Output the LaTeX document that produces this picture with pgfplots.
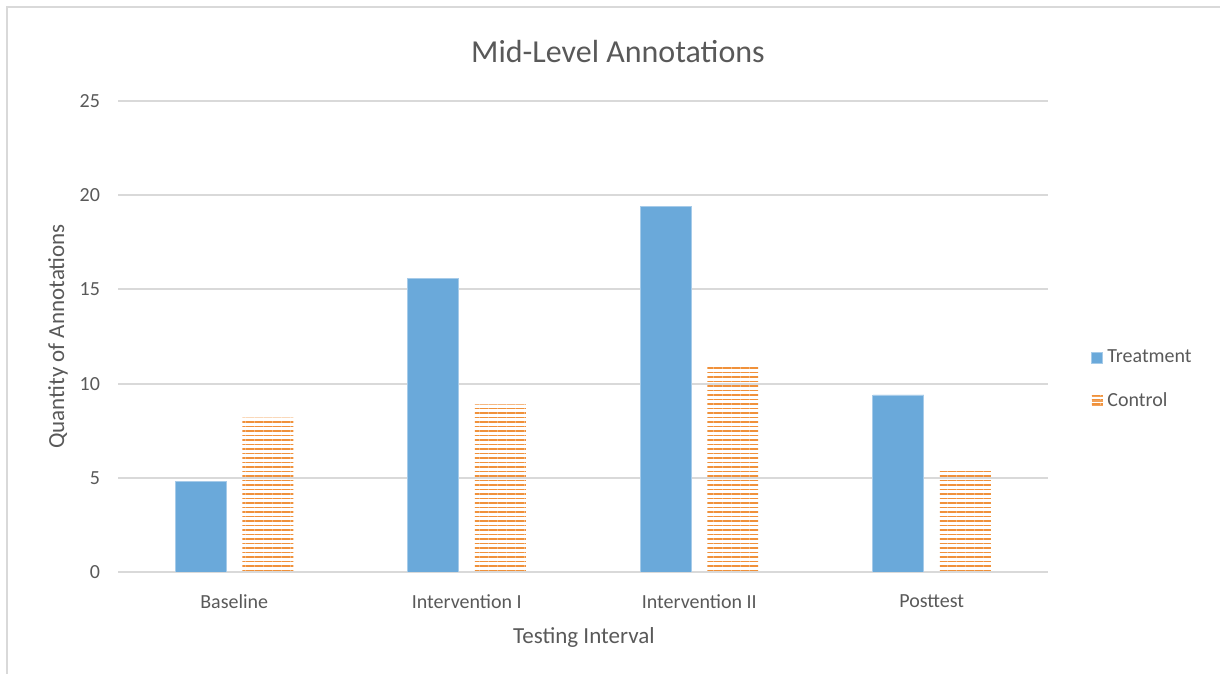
\documentclass[border=0pt]{standalone}
\usepackage{pgfplots}
\pgfplotsset{compat=1.18}
\usepackage{fontspec}
\setmainfont{Carlito}
\usetikzlibrary{patterns.meta}

\definecolor{txt}{HTML}{595959}
\definecolor{gridc}{HTML}{D9D9D9}
\definecolor{treat}{HTML}{6AA9DA}
\definecolor{ctrl}{HTML}{F0913A}

\begin{document}
\begin{tikzpicture}
% chart area and its thin frame
\path[use as bounding box] (-59pt,-51pt) rectangle (551pt,286pt);
\draw[gridc, line width=1pt] (-55.5pt,-51pt) -- (-55.5pt,282.5pt) -- (551pt,282.5pt);

\begin{axis}[
  at={(0,0)}, anchor=south west,
  scale only axis, width=465pt, height=235.5pt,
  xmin=-0.5, xmax=3.5, ymin=0, ymax=25,
  xtick={0,1,2,3},
  xticklabels={Baseline, Intervention I, Intervention II, Posttest},
  ytick={0,5,...,25},
  ybar=8pt, bar width=25.5pt,
  axis line style={draw=none},
  major tick length=0pt,
  ymajorgrids, grid style={gridc, line width=1pt},
  /pgf/number format/assume math mode=true,
  tick label style={font=\fontsize{10}{12}\selectfont, text=txt},
  xticklabel style={yshift=-8pt},
  yticklabel style={xshift=-5.5pt},
  title={Mid-Level Annotations},
  title style={at={(axis description cs:0.5376,1.0806)}, anchor=center,
    font=\fontsize{16}{19}\selectfont, text=txt},
  xlabel={Testing Interval},
  xlabel style={at={(axis description cs:0.501,-0.138)}, anchor=center,
    font=\fontsize{11.5}{14}\selectfont, text=txt},
  ylabel={Quantity of Annotations},
  ylabel style={at={(axis description cs:-0.0645,0.5)}, anchor=center,
    font=\fontsize{11.5}{14}\selectfont, text=txt},
  legend style={draw=none, fill=none, at={(axis description cs:1.0396,0.4086)},
    anchor=west, row sep=11.5pt, column sep=1pt,
    font=\fontsize{10}{12}\selectfont, text=txt,
    nodes={inner sep=1pt}},
  legend cell align=left,
]
\addplot[fill=treat, draw=treat!60!white, line width=0.4pt,
  legend image code/.code={\path[fill=treat, draw=treat!60!white, line width=0.4pt]
    (0pt,-2.75pt) rectangle (5.5pt,2.75pt);}]
  coordinates {(0,4.8) (1,15.6) (2,19.4) (3,9.4)};
\addlegendentry{Treatment}
\addplot[draw=none, pattern={Lines[angle=0,distance=2.25pt,line width=0.7pt]}, pattern color=ctrl,
  legend image code/.code={
    \path (0pt,-2.75pt) rectangle (5.5pt,2.75pt);
    \foreach \yy in {-2.2pt,0pt,2.2pt}{\draw[ctrl!85!white, line width=0.6pt] (0pt,\yy) -- (5.5pt,\yy);}}]
  coordinates {(0,8.2) (1,8.9) (2,11.0) (3,5.4)};
\addlegendentry{Control}
\end{axis}
\end{tikzpicture}
\end{document}
